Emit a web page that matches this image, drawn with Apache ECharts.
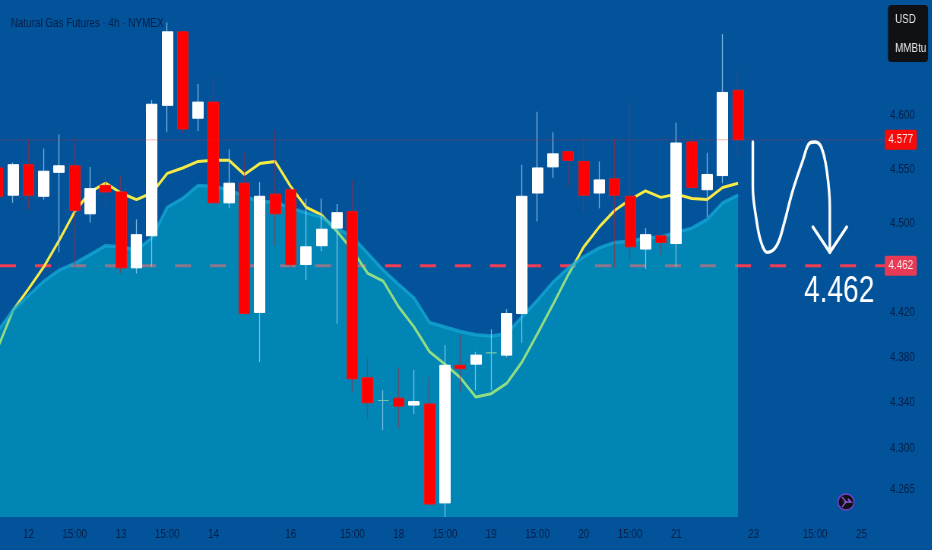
<!DOCTYPE html>
<html>
<head>
<meta charset="utf-8">
<style>
html,body{margin:0;padding:0;background:#03539b;overflow:hidden;width:932px;height:550px}
#c{width:1226.3px;height:550px;transform:scaleX(0.76);transform-origin:0 0}
</style>
<script src="https://cdn.jsdelivr.net/npm/echarts@6/dist/echarts.min.js"></script>
</head>
<body>
<div id="c"></div>
<script>
// [open, close, low, high] per 4h bar, first bar is index -1
const candles = [
[4.551,4.525,4.522,4.554],[4.526,4.554,4.519,4.556],[4.554,4.526,4.513,4.577],[4.525,4.548,4.522,4.569],
[4.547,4.553,4.474,4.582],[4.553,4.512,4.461,4.578],[4.509,4.532,4.501,4.552],[4.535,4.529,4.515,4.546],
[4.529,4.460,4.455,4.544],[4.460,4.490,4.455,4.504],[4.489,4.610,4.461,4.614],[4.609,4.678,4.584,4.687],
[4.678,4.587,4.583,4.678],[4.597,4.612,4.585,4.629],[4.612,4.519,4.518,4.636],[4.519,4.537,4.514,4.568],
[4.537,4.419,4.419,4.565],[4.420,4.525,4.376,4.538],[4.527,4.509,4.480,4.586],[4.531,4.463,4.460,4.533],
[4.463,4.479,4.449,4.523],[4.480,4.495,4.475,4.523],[4.496,4.510,4.410,4.518],[4.511,4.361,4.349,4.540],
[4.362,4.340,4.325,4.380],[4.342,4.342,4.316,4.351],[4.344,4.337,4.318,4.371],[4.338,4.341,4.330,4.369],
[4.339,4.252,4.252,4.363],[4.253,4.373,4.241,4.391],[4.373,4.370,4.350,4.400],[4.374,4.382,4.351,4.385],
[4.384,4.384,4.351,4.405],[4.382,4.419,4.380,4.423],[4.419,4.525,4.393,4.554],[4.528,4.551,4.502,4.603],
[4.552,4.564,4.542,4.584],[4.566,4.558,4.534,4.566],[4.557,4.526,4.510,4.578],[4.528,4.540,4.514,4.557],
[4.541,4.526,4.460,4.577],[4.525,4.479,4.467,4.612],[4.477,4.490,4.459,4.496],[4.489,4.483,4.472,4.489],
[4.482,4.574,4.461,4.593],[4.575,4.533,4.533,4.585],[4.531,4.545,4.506,4.565],[4.544,4.621,4.537,4.676],
[4.623,4.577,4.561,4.642]
];
const fastLine = [4.388,4.422,4.441,4.461,4.485,4.511,4.529,4.537,4.528,4.522,4.528,4.546,4.551,4.557,4.558,4.558,4.545,4.555,4.557,4.534,4.515,4.508,4.493,4.476,4.455,4.448,4.425,4.407,4.385,4.374,4.362,4.345,4.348,4.357,4.376,4.401,4.427,4.454,4.479,4.497,4.512,4.522,4.530,4.524,4.527,4.523,4.522,4.533,4.537];
const slowArea = [4.403,4.422,4.435,4.448,4.458,4.464,4.472,4.480,4.479,4.476,4.487,4.515,4.523,4.535,4.534,4.531,4.525,4.520,4.520,4.514,4.510,4.506,4.496,4.488,4.473,4.458,4.445,4.433,4.411,4.407,4.403,4.400,4.399,4.401,4.416,4.431,4.447,4.460,4.470,4.478,4.483,4.484,4.487,4.488,4.492,4.496,4.504,4.519,4.526];
const priceTicks = [4.600,4.550,4.500,4.420,4.380,4.340,4.300,4.265];
const tickBars = [1,4,7,10,13,18,22,25,28,31,34,37,40,43,48,52,55];
const tickTexts = ['12','15:00','13','15:00','14','16','15:00','18','15:00','19','15:00','20','15:00','21','23','15:00','25'];
const lastPrice = 4.577;
const targetPrice = 4.462;
const sketchBars = [47.96,47.96,48.2,48.5,48.9,49.5,50.0,50.5,51.2,51.65,52.0,52.4,52.75,52.95,52.95];
const sketchPrices = [4.575,4.534,4.503,4.483,4.474,4.480,4.501,4.528,4.558,4.574,4.575,4.570,4.549,4.515,4.474];
const headBars = [51.85,52.95,54.05];
const headPrices = [4.497,4.474,4.497];
const titleText = 'Natural Gas Futures · 4h · NYMEX';

const FONT = '"Liberation Sans",sans-serif';
const BG = '#03539b', INK = '#061f45';
const F = 0.76, FIRST_BAR = -1;
const X = x => x / F;
const bars = a => a.map((v, i) => [i + FIRST_BAR, v]);

const chart = echarts.init(document.getElementById('c'));
const levelSeries = (price, style, z) => ({
  type: 'line', z, silent: true, showSymbol: false, symbol: 'none', lineStyle: style,
  data: [[-0.8425, price], [56.6, price]]
});
const tag = (price, bg, text) => ({
  type: 'scatter', z: 20, silent: true, symbolSize: 0, itemStyle: {opacity: 1},
  data: [[57.55, price]],
  label: {show: true, position: 'inside', formatter: () => text, color: '#f6e9e9',
    fontFamily: FONT, fontSize: 13, backgroundColor: bg, borderRadius: 2,
    width: X(32), height: 20, lineHeight: 20, align: 'center', verticalAlign: 'middle'}
});
const wick = candles.map((c, i) => [i + FIRST_BAR, c[0], c[1], c[2], c[3]]);
const body = candles.map((c, i) => [i + FIRST_BAR, c[0], c[1], Math.min(c[0], c[1]), Math.max(c[0], c[1])]);

chart.setOption({
  animation: false,
  backgroundColor: BG,
  title: {text: titleText, left: X(7), top: 12, textStyle: {fontFamily: FONT, fontWeight: 'normal', fontSize: 13, color: INK}},
  grid: {left: 0, right: 0, top: 0, bottom: 33},
  xAxis: {
    type: 'value', min: -0.8425, max: 59.559,
    axisLine: {show: false}, axisTick: {show: false}, splitLine: {show: false},
    axisLabel: {customValues: tickBars, margin: 11, color: INK, fontFamily: FONT, fontSize: 13, hideOverlap: false,
      showMinLabel: true, showMaxLabel: true,
      formatter: v => { const k = tickBars.indexOf(Number(v)); return k < 0 ? '' : tickTexts[k]; }}
  },
  yAxis: {
    type: 'log', logBase: Math.E, min: 4.2409, max: 4.7082, position: 'right',
    axisLine: {show: false}, axisTick: {show: false}, splitLine: {show: false}, minorTick:{show:false}, minorSplitLine:{show:false},
    axisLabel: {inside: true, margin: X(17), color: INK, fontFamily: FONT, fontSize: 13,
      customValues: priceTicks, formatter: v => Number(v).toFixed(3)}
  },
  series: [
    levelSeries(targetPrice, {color: '#f23c55', width: 3, type: [X(16), X(19)], dashOffset: 0}, 1),
    {type: 'line', name: 'fast', z: 2, data: bars(fastLine), showSymbol: false, symbol: 'none',
     lineStyle: {color: '#f8ea45', width: 3}},
    {type: 'line', name: 'slow', z: 3, data: bars(slowArea), showSymbol: false, symbol: 'none',
     lineStyle: {color: 'rgba(20,170,215,0.75)', width: 3.5},
     areaStyle: {origin: 'start', color: 'rgba(0,202,218,0.42)', opacity: 1}},
    {type: 'candlestick', name: 'wicks', z: 4, barWidth: 1, data: wick,
     itemStyle: {color: 'rgba(165,215,245,0.75)', borderColor: 'rgba(165,215,245,0.75)',
       color0: 'rgba(165,40,60,0.6)', borderColor0: 'rgba(165,40,60,0.6)',
       borderColorDoji: 'rgba(165,215,245,0.75)', borderWidth: 1.3}},
    {type: 'candlestick', name: 'bodies', z: 5, barWidth: 14.5, data: body,
     itemStyle: {color: '#ffffff', borderColor: '#ffffff', color0: '#ff0000', borderColor0: '#f01515',
       borderColorDoji: 'rgba(120,200,170,0.8)', borderWidth: 1}},
    levelSeries(lastPrice, {color: 'rgba(200,40,60,0.32)', width: 1}, 6),
    {type: 'line', name: 'sketch', z: 7, silent: true, showSymbol: false, symbol: 'none', smooth: 0.4,
     lineStyle: {color: '#ffffff', width: 3.4, cap: 'round', join: 'round'},
     data: sketchBars.map((b, i) => [b, sketchPrices[i]])},
    {type: 'line', name: 'head', z: 7, silent: true, showSymbol: false, symbol: 'none',
     lineStyle: {color: '#ffffff', width: 3.4, cap: 'round', join: 'round'},
     data: headBars.map((b, i) => [b, headPrices[i]])},
    tag(lastPrice, '#f60a0a', lastPrice.toFixed(3)),
    tag(targetPrice, '#e83a55', targetPrice.toFixed(3))
  ],
  graphic: [
    {type: 'rect', z: 50, shape: {x: X(888), y: 5, width: X(40), height: 57, r: 4}, style: {fill: '#101114'}},
    {type: 'text', z: 51, x: X(895), y: 13, style: {text: 'USD', fill: '#e9e9e9', font: '13px ' + FONT}},
    {type: 'text', z: 51, x: X(895), y: 42, style: {text: 'MMBtu', fill: '#e9e9e9', font: '13px ' + FONT}},
    {type: 'text', z: 51, x: X(804), y: 273, style: {text: '4.462', fill: '#ffffff', font: '37px ' + FONT}},
    {type: 'ellipse', z: 50, shape: {cx: X(846), cy: 502, rx: X(8), ry: 8}, style: {fill: '#111', stroke: '#7a3fd1', lineWidth: 1.5}},
    {type: 'polyline', z: 51, shape: {points: [[X(842), 497], [X(846), 502], [X(842), 507]]}, style: {fill: 'none', stroke: '#8e57e0', lineWidth: 1.6}},
    {type: 'polyline', z: 51, shape: {points: [[X(844), 502], [X(851), 502], [X(848), 499]]}, style: {fill: 'none', stroke: '#8e57e0', lineWidth: 1.6}}
  ]
});
</script>
</body>
</html>
